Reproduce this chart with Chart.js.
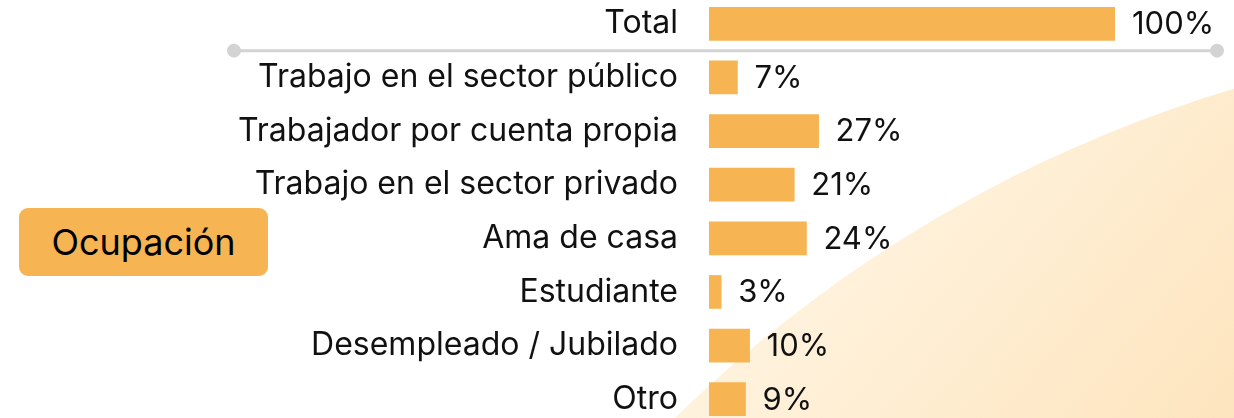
<!DOCTYPE html>
<html>
<head>
<meta charset="utf-8">
<script src="https://cdn.jsdelivr.net/npm/chart.js@4"></script>
<style>
    html, body { margin: 0; padding: 0; background: #fff; overflow: hidden; }
    .wrap { position: absolute; left: 0; top: -3px; width: 1234px; height: 429px; }
    .tag {
        position: absolute; left: 19px; top: 208px; width: 249px; height: 68px;
        background: #f6b452; border-radius: 9px;
        font-family: Inter, "Noto Sans", sans-serif; font-size: 36px; color: #000;
        display: flex; align-items: center; justify-content: center;
    }
</style>
</head>
<body>
<div class="wrap"><canvas id="occChart"></canvas></div>
<div class="tag">Ocupación</div>
<script>
let categories = ["Total", "Trabajo en el sector público", "Trabajador por cuenta propia", "Trabajo en el sector privado", "Ama de casa", "Estudiante", "Desempleado / Jubilado", "Otro"]
let values = [100, 7, 27, 21, 24, 3, 10, 9]
let valueLabels = ["100%", "7%", "27%", "21%", "24%", "3%", "10%", "9%"]

// soft orange shape in the back
let backdrop = {
    id: "backdrop",
    beforeDraw: (chart) => {
        let ctx = chart.ctx
        ctx.save()
        let grad = ctx.createLinearGradient(850, 100, 1234, 429)
        grad.addColorStop(0, "#fff5e3")
        grad.addColorStop(1, "#fde4bd")
        ctx.beginPath()
        ctx.arc(1622, 1390, 1355, 0, Math.PI * 2)
        ctx.fillStyle = grad
        ctx.fill()
        ctx.restore()
    }
}

// separator line under "Total" + value labels
let extras = {
    id: "extras",
    afterDatasetsDraw: (chart) => {
        let ctx = chart.ctx
        let meta = chart.getDatasetMeta(0)
        ctx.save()
        let y = (meta.data[0].y + meta.data[1].y) / 2
        ctx.strokeStyle = "#d3d3d3"
        ctx.fillStyle = "#d3d3d3"
        ctx.lineWidth = 3
        ctx.beginPath()
        ctx.moveTo(234, y)
        ctx.lineTo(1217, y)
        ctx.stroke()
        ctx.beginPath()
        ctx.arc(234, y, 7, 0, Math.PI * 2)
        ctx.arc(1217, y, 7, 0, Math.PI * 2)
        ctx.fill()

        ctx.fillStyle = "#111"
        ctx.font = "31px Inter"
        ctx.textAlign = "left"
        ctx.textBaseline = "middle"
        meta.data.forEach((bar, i) => {
            ctx.fillText(valueLabels[i], bar.x + 17, bar.y + 1)
        })
        ctx.restore()
    }
}

new Chart("occChart", {
    type: "bar",
    data: {
        labels: categories,
        datasets: [{
            data: values,
            backgroundColor: "#f6b452",
            barThickness: 33
        }]
    },
    options: {
        indexAxis: "y",
        responsive: true,
        maintainAspectRatio: false,
        animation: false,
        layout: { padding: { left: 0, right: 119, top: 0, bottom: 0 } },
        plugins: { legend: { display: false }, tooltip: { enabled: false } },
        scales: {
            x: { display: false, min: 0, max: 100 },
            y: {
                grid: { display: false, drawTicks: false },
                border: { display: false },
                ticks: { color: "#111", font: { family: "Inter", size: 32 }, padding: 31 },
                afterFit: (scale) => {
                    scale.width = 709
                    scale.paddingTop = 0
                    scale.paddingBottom = 0
                }
            }
        }
    },
    plugins: [backdrop, extras]
})
</script>
</body>
</html>
